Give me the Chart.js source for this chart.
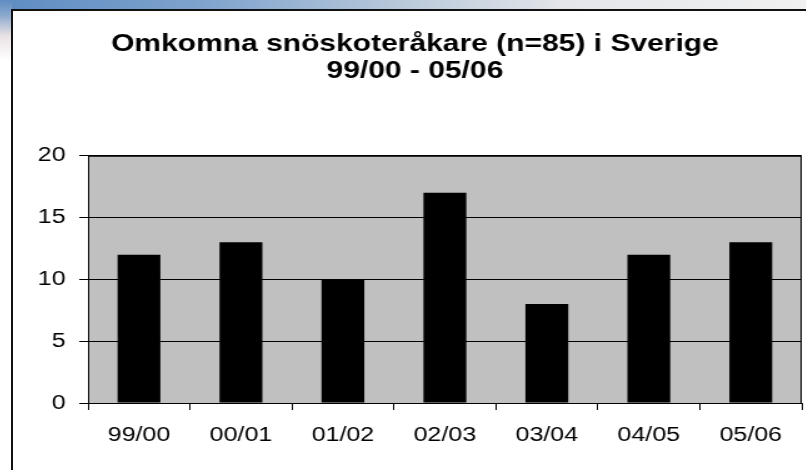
<!DOCTYPE html>
<html lang="sv">
<head>
<meta charset="utf-8">
<title>Omkomna snöskoteråkare</title>
<script src="https://cdn.jsdelivr.net/npm/chart.js@4.4.1/dist/chart.umd.min.js"></script>
<style>
  html, body { margin: 0; padding: 0; width: 806px; height: 470px; overflow: hidden; background: #fff; }
  /* blå bakgrund uppe till vänster */
  #topp { position: absolute; left: 0; top: 0; width: 806px; height: 12px;
    background: linear-gradient(to right, #5e8cc2 0%, #7ea3cd 25%, #b9c9da 50%, #e4e6ea 70%, #f1f1f1 100%); }
  #kant { position: absolute; left: 0; top: 0; width: 12px; height: 60px;
    background: linear-gradient(to bottom, #5e8cc2 0%, #8aa8cc 25%, #e9e2e4 60%, #ffffff 100%); }
  #ruta { position: absolute; left: 11px; top: 9px; width: 820px; height: 480px;
    border-left: 2px solid #111; border-top: 2px solid #111; background: #fff; }
  #diagram { position: absolute; left: 13px; top: 12px; }
</style>
</head>
<body>
<div id="topp"></div>
<div id="kant"></div>
<div id="ruta"></div>
<!-- ritytan sträcks ut på bredden, som i originalbilden -->
<canvas id="diagram" width="644" height="458" style="width: 805px; height: 458px;"></canvas>
<script>
// Säsonger och antal omkomna per säsong (summa 85)
var sasonger = ['99/00', '00/01', '01/02', '02/03', '03/04', '04/05', '05/06'];
var omkomna = [12, 13, 10, 17, 8, 12, 13];
// Skalstreck på y-axeln
var yTicks = [0, 5, 10, 15, 20];

var titel = ['Omkomna snöskoteråkare (n=85) i Sverige', '99/00 - 05/06'];

// Grå bakgrund och svart ram runt ritytan
var ritytaPlugin = {
    id: 'rityta',
    beforeDraw: function (chart) {
        var ctx = chart.ctx;
        var a = chart.chartArea;
        ctx.save();
        ctx.fillStyle = '#c0c0c0';
        ctx.fillRect(a.left, a.top, a.right - a.left, a.bottom - a.top);
        ctx.restore();
    },
    afterDraw: function (chart) {
        var ctx = chart.ctx;
        var a = chart.chartArea;
        ctx.save();
        ctx.strokeStyle = '#000';
        ctx.lineWidth = 1;
        ctx.strokeRect(a.left + 0.5, a.top + 0.5, a.right - a.left - 1, a.bottom - a.top);
        ctx.restore();
    }
};

var typsnitt = "'Liberation Sans', Arial, sans-serif";

new Chart(document.getElementById('diagram'), {
    type: 'bar',
    data: {
        labels: sasonger,
        datasets: [{
            data: omkomna,
            backgroundColor: '#000',
            borderWidth: 0,
            categoryPercentage: 1.0,
            barPercentage: 0.42
        }]
    },
    options: {
        responsive: false,
        animation: false,
        devicePixelRatio: 1,
        layout: { padding: { left: 12, right: 13, top: 0, bottom: 0 } },
        plugins: {
            legend: { display: false },
            tooltip: { enabled: false },
            title: {
                display: true,
                text: titel,
                color: '#000',
                font: { family: typsnitt, size: 24, weight: 'bold', lineHeight: 1.12 },
                padding: { top: 19, bottom: 71 }
            }
        },
        scales: {
            x: {
                grid: { offset: true, drawOnChartArea: false, drawTicks: true, tickLength: 7, color: '#000' },
                border: { display: true, color: '#000' },
                ticks: { color: '#000', font: { family: typsnitt, size: 20 }, padding: 13, maxRotation: 0 },
                afterFit: function (scale) { scale.height = 67; }
            },
            y: {
                min: 0,
                max: 20,
                grid: { color: '#000', tickLength: 7, drawTicks: true },
                border: { display: true, color: '#000' },
                ticks: { color: '#000', font: { family: typsnitt, size: 20 }, padding: 11 },
                afterBuildTicks: function (scale) {
                    scale.ticks = yTicks.map(function (v) { return { value: v }; });
                },
                afterFit: function (scale) { scale.width = 48; }
            }
        }
    },
    plugins: [ritytaPlugin]
});
</script>
</body>
</html>
